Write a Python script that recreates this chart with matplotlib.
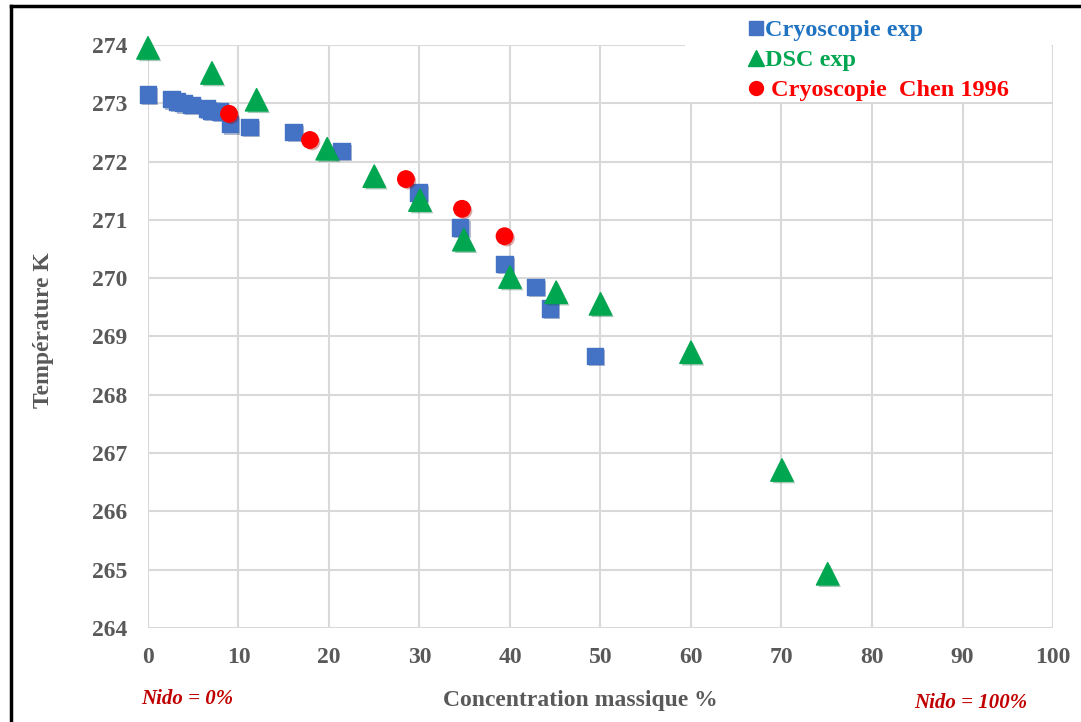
import numpy as np
import matplotlib.pyplot as plt
from matplotlib.lines import Line2D
from matplotlib.patches import Rectangle
import matplotlib.patheffects as pe

# Cryoscopie exp (blue squares)
cryo_x = [0, 2.6, 3.2, 3.9, 4.8, 6.5, 7.0, 7.95, 9.06, 11.2, 16.1, 21.4, 29.9, 34.5, 39.4, 42.8, 44.4, 49.4]
cryo_y = [273.15, 273.07, 273.03, 273.0, 272.97, 272.91, 272.87, 272.86, 272.64, 272.59, 272.51, 272.18,
          271.47, 270.87, 270.24, 269.85, 269.48, 268.67]

# DSC exp (green triangles)
dsc_x = [0, 7.07, 12.0, 19.8, 25, 30.05, 34.9, 40, 45.1, 50, 60, 70.05, 75.1]
dsc_y = [273.95, 273.52, 273.06, 272.22, 271.75, 271.34, 270.66, 270.02, 269.76, 269.56, 268.73, 266.71, 264.93]

# Cryoscopie Chen 1996 (red circles)
chen_x = [8.95, 17.9, 28.5, 34.7, 39.4]
chen_y = [272.82, 272.37, 271.70, 271.19, 270.72]

plt.rcParams['font.family'] = ['Liberation Serif', 'DejaVu Serif']

fig = plt.figure(figsize=(10.81, 7.22), dpi=100)
ax = fig.add_axes([0.1369, 0.1302, 0.8372, 0.8075])

shadow = [pe.SimplePatchShadow(offset=(1.5, -1.5), alpha=0.35, rho=0.6), pe.Normal()]
ax.scatter(cryo_x, cryo_y, marker='s', s=140, color='#4472C4', zorder=3, path_effects=shadow, clip_on=False)
ax.scatter(dsc_x, dsc_y, marker='^', s=260, color='#00A650', zorder=4, path_effects=shadow, clip_on=False)
ax.scatter(chen_x, chen_y, marker='o', s=140, color='#FF0000', zorder=5, path_effects=shadow, clip_on=False)

ax.set_xlim(0, 100)
ax.set_ylim(264, 274)
ax.set_xticks(np.arange(0, 101, 10))
ax.set_yticks(np.arange(264, 275, 1))
ax.grid(True, color='#d9d9d9', linewidth=1.5)
ax.set_axisbelow(True)
for s in ax.spines.values():
    s.set_visible(False)
ax.tick_params(length=0, labelsize=17, labelcolor='#595959')
ax.tick_params(axis='y', pad=15)
ax.tick_params(axis='x', pad=13.5)
for lab in ax.get_xticklabels() + ax.get_yticklabels():
    lab.set_fontweight('bold')

ax.set_xlabel('Concentration massique %', fontsize=17, fontweight='bold', color='#595959')
ax.set_ylabel('Température K', fontsize=17, fontweight='bold', color='#595959')
ax.xaxis.set_label_coords(0.478, -0.125)
ax.yaxis.set_label_coords(-0.116, 0.511)
ax.xaxis.label.set_va('center')
ax.yaxis.label.set_va('center')

fig.text(0.131, 0.032, 'Nido = 0%', color='#C00000', fontsize=15, fontweight='bold', style='italic', va='center')
fig.text(0.846, 0.026, 'Nido = 100%', color='#C00000', fontsize=15, fontweight='bold', style='italic', va='center')

# white box behind the legend, hiding the grid there
fig.add_artist(Rectangle((685 / 1081, 1 - 102 / 722), 366 / 1081, 102 / 722, transform=fig.transFigure,
                         facecolor='white', edgecolor='none', zorder=2))

handles = [
    Line2D([], [], marker='s', linestyle='none', color='#4472C4', markersize=10),
    Line2D([], [], marker='^', linestyle='none', color='#00A650', markersize=11),
    Line2D([], [], marker='o', linestyle='none', color='#FF0000', markersize=10),
]
labels = ['Cryoscopie exp', 'DSC exp', ' Cryoscopie  Chen 1996']
leg = fig.legend(handles, labels, loc='upper left', bbox_to_anchor=(0.672, 1.0),
                 frameon=False, prop={'weight': 'bold', 'size': 17.5},
                 handletextpad=0.0, handlelength=0.8, labelspacing=0.32, borderpad=0.3,
                 labelcolor=['#1F73C1', '#00A650', '#FF0000'])
leg.set_zorder(10)

# black frame lines (left and top)
fig.add_artist(Line2D([0.0102, 0.0102], [0, 0.992], transform=fig.transFigure, color='black', linewidth=2.5, zorder=11))
fig.add_artist(Line2D([0.0102, 1], [0.992, 0.992], transform=fig.transFigure, color='black', linewidth=2.5, zorder=11))

fig.savefig('out.png', dpi=100, facecolor='white')
